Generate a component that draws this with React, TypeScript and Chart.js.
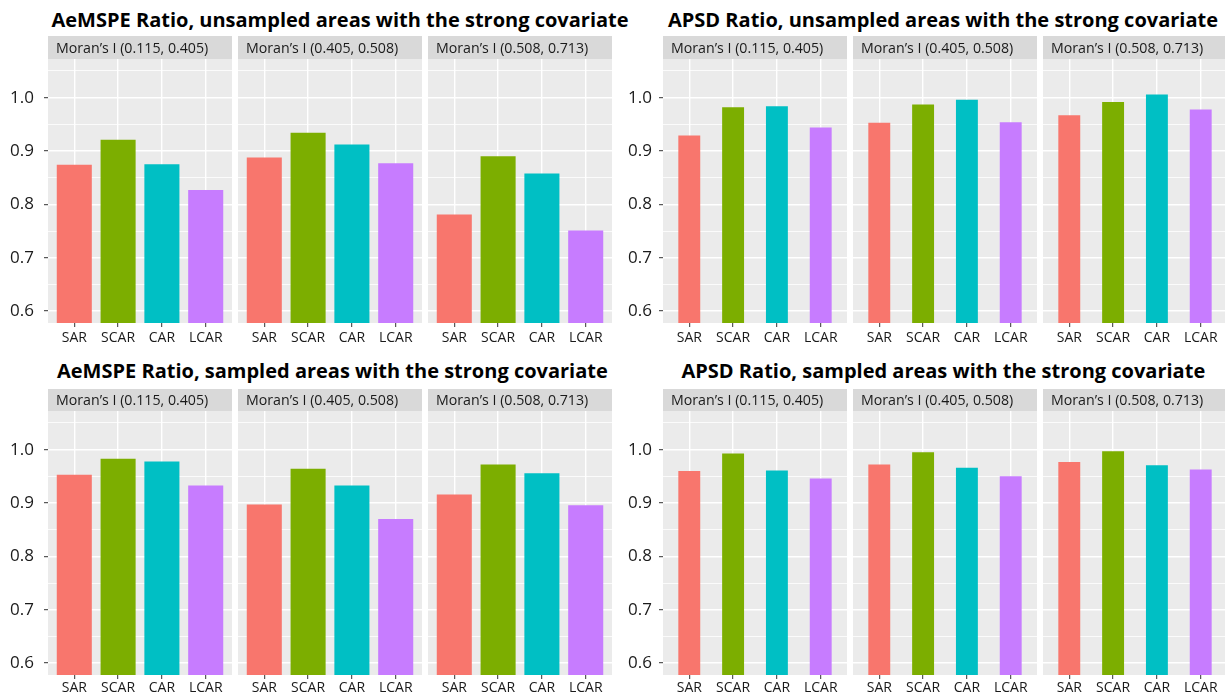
import React, { useEffect, useRef } from 'react';
import { Chart, registerables } from 'chart.js';

Chart.register(...registerables);

// ---- data -------------------------------------------------------------
const CATEGORIES = ['SAR', 'SCAR', 'CAR', 'LCAR'];
const BAR_COLORS = ['#F8766D', '#7CAE00', '#00BFC4', '#C77CFF'];
const MORAN_BINS = [
  'Moran’s I (0.115, 0.405)',
  'Moran’s I (0.405, 0.508)',
  'Moran’s I (0.508, 0.713)',
];

const Y_MAJOR = [0.6, 0.7, 0.8, 0.9, 1.0];
const Y_MINOR = [0.65, 0.75, 0.85, 0.95, 1.05];
const Y_LIMITS = [0.6, 1.05];

// one row per Moran's I bin, one value per model (SAR, SCAR, CAR, LCAR)
const AEMSPE_UNSAMPLED = [
  [0.874, 0.921, 0.875, 0.827],
  [0.888, 0.934, 0.912, 0.877],
  [0.781, 0.890, 0.858, 0.751],
];
const APSD_UNSAMPLED = [
  [0.929, 0.982, 0.984, 0.944],
  [0.953, 0.987, 0.996, 0.954],
  [0.967, 0.992, 1.006, 0.978],
];
const AEMSPE_SAMPLED = [
  [0.953, 0.983, 0.978, 0.933],
  [0.897, 0.964, 0.933, 0.870],
  [0.916, 0.972, 0.956, 0.896],
];
const APSD_SAMPLED = [
  [0.960, 0.993, 0.961, 0.946],
  [0.972, 0.995, 0.966, 0.950],
  [0.977, 0.997, 0.971, 0.963],
];

// ---- layout -----------------------------------------------------------
const FONT = '"Open Sans", Lato, "DejaVu Sans", sans-serif';
const FACET_W = 184;
const FACET_STEP = 190;
const AXIS_W = 48;
const PLOT_H = 264;
const TITLE_SIZE = 20;

const ROWS = [
  { stripTop: 36, stripH: 23, titleBaseline: 28, axisH: 29, labelPad: 3 },
  { stripTop: 389, stripH: 22, titleBaseline: 378.7, axisH: 21, labelPad: 0.5 },
];
const COLS = [
  { left: 48, yPad: 10 },
  { left: 663, yPad: 7 },
];

const PANELS = [
  { title: 'AeMSPE Ratio, unsampled areas with the strong covariate', values: AEMSPE_UNSAMPLED, barWidth: 0.8, row: 0, col: 0, titleX: 51.5 },
  { title: 'APSD Ratio, unsampled areas with the strong covariate', values: APSD_UNSAMPLED, barWidth: 0.5, row: 0, col: 1, titleX: 668 },
  { title: 'AeMSPE Ratio, sampled areas with the strong covariate', values: AEMSPE_SAMPLED, barWidth: 0.8, row: 1, col: 0, titleX: 57 },
  { title: 'APSD Ratio, sampled areas with the strong covariate', values: APSD_SAMPLED, barWidth: 0.5, row: 1, col: 1, titleX: 681.5 },
];

const isMajor = (v: number) => Y_MAJOR.some((m) => Math.abs(m - v) < 1e-9);

// grey panel background plus the facet strip with its label
const facetPanel = {
  id: 'facetPanel',
  beforeDraw(chart: any, _args: any, opts: any) {
    const { ctx, chartArea: a } = chart;
    ctx.save();
    ctx.fillStyle = '#EBEBEB';
    ctx.fillRect(a.left, a.top, a.right - a.left, a.bottom - a.top);
    ctx.fillStyle = '#D9D9D9';
    ctx.fillRect(a.left, 0, a.right - a.left, a.top);
    ctx.fillStyle = '#1A1A1A';
    ctx.font = `14.2px ${FONT}`;
    ctx.textAlign = 'left';
    ctx.textBaseline = 'alphabetic';
    ctx.fillText(opts.label, a.left + 8, a.top * 0.72);
    ctx.restore();
  },
};

type FacetProps = {
  values: number[];
  label: string;
  barWidth: number;
  showY: boolean;
  yPad: number;
  left: number;
  row: (typeof ROWS)[number];
};

function Facet({ values, label, barWidth, showY, yPad, left, row }: FacetProps) {
  const ref = useRef<HTMLCanvasElement>(null);
  const axisW = showY ? AXIS_W : 0;
  const width = FACET_W + axisW;
  const height = row.stripH + PLOT_H + row.axisH;

  useEffect(() => {
    if (!ref.current) return;
    const span = Y_LIMITS[1] - Y_LIMITS[0];
    const yMin = Y_LIMITS[0] - span * 0.05;
    const yMax = Y_LIMITS[1] + span * 0.05;
    const yTicks = [...Y_MAJOR, ...Y_MINOR].sort((a, b) => a - b);

    const chart = new Chart(ref.current, {
      type: 'bar',
      data: {
        datasets: [
          {
            data: values.map((v, i) => ({ x: i, y: v })),
            backgroundColor: BAR_COLORS,
            borderWidth: 0,
            barPercentage: barWidth,
            categoryPercentage: 1,
          },
        ],
      },
      options: {
        responsive: false,
        animation: false,
        layout: { padding: { top: row.stripH, left: 0, right: 0, bottom: 0 } },
        plugins: {
          legend: { display: false },
          tooltip: { enabled: false },
          facetPanel: { label },
        } as any,
        scales: {
          x: {
            type: 'linear',
            bounds: 'data',
            offset: false,
            min: -0.6,
            max: CATEGORIES.length - 1 + 0.6,
            afterBuildTicks: (s: any) => {
              s.ticks = CATEGORIES.map((_, i) => ({ value: i }));
            },
            afterFit: (s: any) => {
              s.height = row.axisH;
            },
            border: { display: false },
            grid: {
              offset: false,
              color: '#FFFFFF',
              lineWidth: 1.4,
              drawTicks: true,
              tickLength: 4,
              tickColor: '#333333',
              tickWidth: 1,
            },
            ticks: {
              autoSkip: false,
              maxRotation: 0,
              padding: row.labelPad,
              color: '#1A1A1A',
              font: { family: FONT, size: 14 },
              callback: (v: any) => CATEGORIES[Math.round(Number(v))] ?? '',
            },
          },
          y: {
            type: 'linear',
            bounds: 'data',
            min: yMin,
            max: yMax,
            afterBuildTicks: (s: any) => {
              s.ticks = yTicks.map((v) => ({ value: v }));
            },
            afterFit: (s: any) => {
              s.width = axisW;
            },
            border: { display: false },
            grid: {
              color: '#FFFFFF',
              lineWidth: (c: any) => (c.tick && isMajor(c.tick.value) ? 1.4 : 0.8),
              drawTicks: showY,
              tickLength: 4,
              tickColor: (c: any) => (c.tick && isMajor(c.tick.value) ? '#333333' : 'rgba(0,0,0,0)'),
              tickWidth: 1,
            },
            ticks: {
              display: showY,
              autoSkip: false,
              padding: yPad,
              color: '#1A1A1A',
              font: { family: FONT, size: 17 },
              callback: (v: any) => (isMajor(Number(v)) ? Number(v).toFixed(1) : ''),
            },
          },
        },
      },
      plugins: [facetPanel],
    } as any);
    return () => chart.destroy();
  }, [values, label, barWidth, showY, yPad, axisW, row]);

  return (
    <canvas
      ref={ref}
      width={width}
      height={height}
      style={{ position: 'absolute', left: left - axisW, top: row.stripTop, width, height }}
    />
  );
}

export default function App() {
  return (
    <div
      style={{
        position: 'fixed',
        left: 0,
        top: 0,
        width: 1225,
        height: 696,
        overflow: 'hidden',
        background: '#FFFFFF',
        fontFamily: FONT,
      }}
    >
      {PANELS.map((p) => {
        const row = ROWS[p.row];
        const col = COLS[p.col];
        return (
          <React.Fragment key={p.title}>
            <div
              style={{
                position: 'absolute',
                left: p.titleX,
                top: row.titleBaseline - 0.888 * TITLE_SIZE,
                fontSize: TITLE_SIZE,
                fontWeight: 700,
                lineHeight: 1,
                whiteSpace: 'nowrap',
                color: '#000000',
              }}
            >
              {p.title}
            </div>
            {MORAN_BINS.map((bin, f) => (
              <Facet
                key={bin}
                values={p.values[f]}
                label={bin}
                barWidth={p.barWidth}
                showY={f === 0}
                yPad={col.yPad}
                left={col.left + f * FACET_STEP}
                row={row}
              />
            ))}
          </React.Fragment>
        );
      })}
    </div>
  );
}
